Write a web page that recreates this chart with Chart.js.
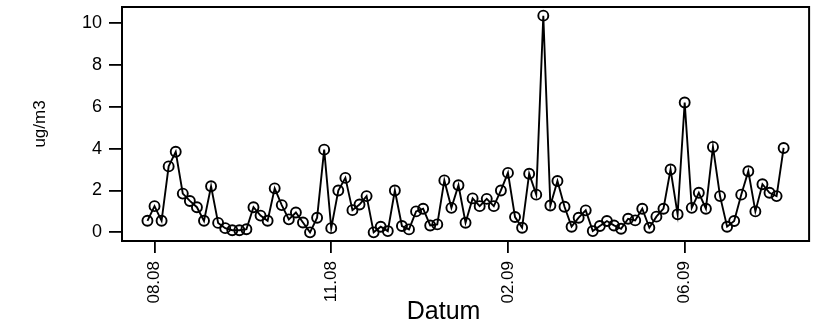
<!DOCTYPE html>
<html>
<head>
<meta charset="utf-8">
<script src="https://cdn.jsdelivr.net/npm/chart.js@4/dist/chart.umd.min.js"></script>
<style>
  html, body { margin: 0; padding: 0; background: #fff; }
  #wrap { width: 816px; height: 328px; }
</style>
</head>
<body>
<div id="wrap"><canvas id="c" width="816" height="328"></canvas></div>
<script>
// Concentration values (ug/m3), one per sample
const values = [
  0.55, 1.25, 0.55, 3.15, 3.85, 1.85, 1.5, 1.2, 0.55, 2.2,
  0.45, 0.2, 0.1, 0.1, 0.15, 1.2, 0.8, 0.55, 2.1, 1.3,
  0.62, 0.95, 0.47, 0.0, 0.7, 3.95, 0.2, 2.0, 2.6, 1.06,
  1.33, 1.73, 0.0, 0.27, 0.06, 2.0, 0.3, 0.14, 1.0, 1.13,
  0.33, 0.38, 2.48, 1.17, 2.25, 0.46, 1.62, 1.25, 1.6, 1.25,
  2.0, 2.84, 0.73, 0.22, 2.8, 1.8, 10.35, 1.28, 2.45, 1.22,
  0.27, 0.7, 1.05, 0.06, 0.3, 0.54, 0.33, 0.17, 0.65, 0.57,
  1.13, 0.22, 0.75, 1.13, 3.0, 0.86, 6.2, 1.17, 1.89, 1.13,
  4.08, 1.73, 0.27, 0.54, 1.8, 2.92, 1.0, 2.3, 1.89, 1.73,
  4.03
];
// sample positions (1-based index)
const positions = values.map((v, i) => i + 1);
// x tick positions and labels
const xTickPositions = [2, 27, 52, 77];
const xTickLabels = ['08.08', '11.08', '02.09', '06.09'];
// y ticks
const yTicks = [0, 2, 4, 6, 8, 10];
const yTitle = 'ug/m3';
const xTitle = 'Datum';

const FONT = '"Liberation Sans", Arial, sans-serif';

// R-style 4% range extension
const n = values.length;
const xPad = 0.04 * (n - 1);
const yMinD = Math.min(...values), yMaxD = Math.max(...values);
const yPad = 0.04 * (yMaxD - yMinD);

const boxPlugin = {
  id: 'box',
  afterDraw(chart) {
    const {ctx, chartArea: a} = chart;
    ctx.save();
    ctx.strokeStyle = '#000';
    ctx.lineWidth = 2;
    ctx.strokeRect(a.left, a.top, a.right - a.left, a.bottom - a.top);
    // x axis title
    ctx.fillStyle = '#000';
    ctx.font = '25px ' + FONT;
    ctx.textAlign = 'center';
    ctx.textBaseline = 'middle';
    ctx.fillText(xTitle, (a.left + a.right) / 2 - 22, 312);
    ctx.restore();
  }
};

new Chart(document.getElementById('c'), {
  type: 'line',
  data: {
    datasets: [{
      data: positions.map((x, i) => ({x: x, y: values[i]})),
      borderColor: '#000',
      borderWidth: 1.9,
      tension: 0,
      pointStyle: 'circle',
      pointRadius: 5,
      pointBorderWidth: 1.9,
      pointBorderColor: '#000',
      pointBackgroundColor: 'rgba(0,0,0,0)'
    }]
  },
  options: {
    responsive: false,
    animation: false,
    devicePixelRatio: 1,
    layout: { padding: { top: 7, right: 4, left: 0, bottom: 0 } },
    plugins: { legend: { display: false }, tooltip: { enabled: false } },
    scales: {
      x: {
        type: 'linear',
        min: 1 - xPad,
        max: n + xPad,
        afterBuildTicks: (s) => { s.ticks = xTickPositions.map(v => ({value: v})); },
        afterFit: (s) => { s.height = 87; s.paddingLeft = 0; s.paddingRight = 0; },
        border: { display: false },
        grid: { drawOnChartArea: false, drawTicks: true, tickLength: 12, color: '#000', lineWidth: 1.8 },
        ticks: {
          autoSkip: false,
          minRotation: 90,
          maxRotation: 90,
          padding: 8,
          color: '#000',
          font: { family: FONT, size: 17 },
          callback: (v) => { const k = xTickPositions.indexOf(v); return k >= 0 ? xTickLabels[k] : ''; }
        }
      },
      y: {
        type: 'linear',
        min: yMinD - yPad,
        max: yMaxD + yPad,
        afterBuildTicks: (s) => { s.ticks = yTicks.map(v => ({value: v})); },
        afterFit: (s) => { s.width = 122; s.paddingTop = 0; s.paddingBottom = 0; },
        border: { display: false },
        grid: { drawOnChartArea: false, drawTicks: true, tickLength: 13, color: '#000', lineWidth: 1.8 },
        title: { display: true, text: yTitle, color: '#000', font: { family: FONT, size: 17 }, padding: { top: 30, bottom: 0 } },
        ticks: {
          padding: 7,
          color: '#000',
          font: { family: FONT, size: 18 },
          callback: (v) => String(v)
        }
      }
    }
  },
  plugins: [boxPlugin]
});
</script>
</body>
</html>
